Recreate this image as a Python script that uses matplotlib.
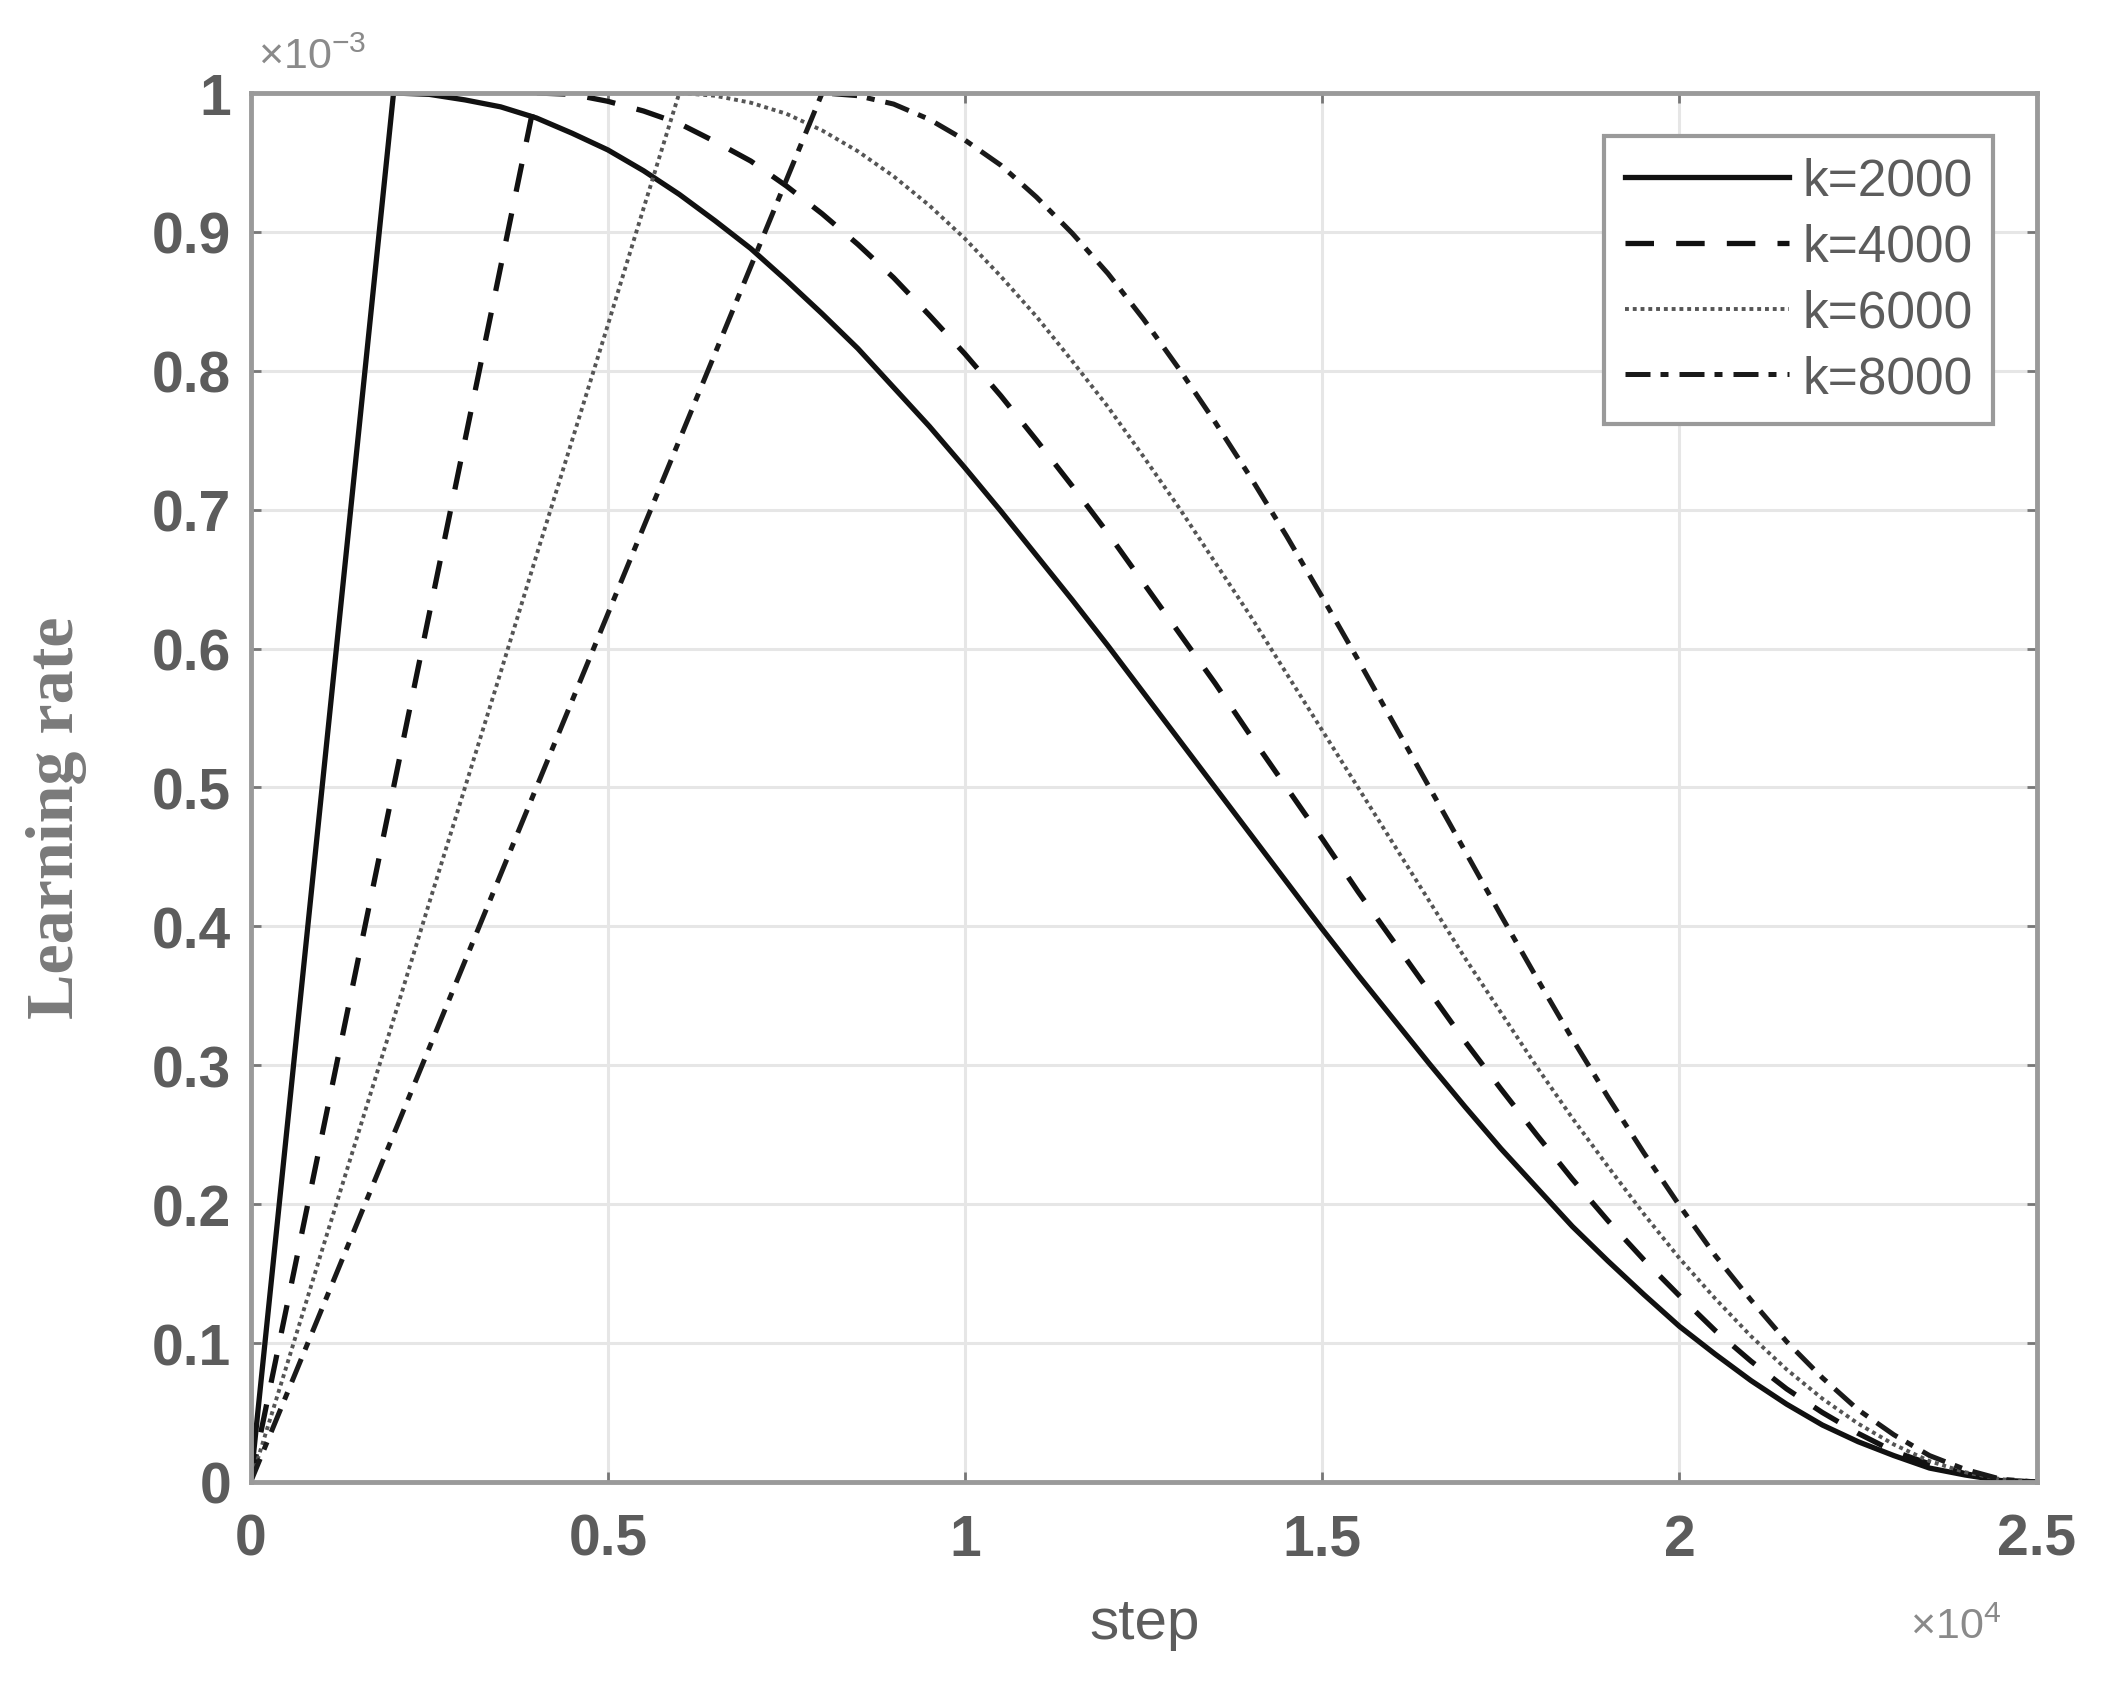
#!/usr/bin/env python3

import matplotlib
matplotlib.use("Agg")
import matplotlib.pyplot as plt
import numpy as np

# step axis (read every 500 steps)
steps = list(range(0, 25001, 500))

# learning rate, in units of 1e-3
lr_k2000 = [0, 0.25, 0.5, 0.75, 1.0, 0.999, 0.995, 0.990, 0.982, 0.971, 0.959, 0.944, 0.927,
            0.908, 0.888, 0.865, 0.841, 0.816, 0.788, 0.760, 0.730, 0.699, 0.667, 0.635, 0.602,
            0.568, 0.534, 0.500, 0.466, 0.432, 0.398, 0.365, 0.333, 0.301, 0.270, 0.240, 0.212,
            0.184, 0.159, 0.135, 0.112, 0.092, 0.073, 0.056, 0.041, 0.029, 0.019, 0.010, 0.005,
            0.001, 0]
lr_k4000 = [0, 0.125, 0.25, 0.375, 0.5, 0.625, 0.75, 0.875, 1.0, 0.999, 0.994, 0.987, 0.978,
            0.965, 0.951, 0.933, 0.913, 0.891, 0.867, 0.840, 0.812, 0.782, 0.750, 0.717, 0.683,
            0.647, 0.611, 0.575, 0.537, 0.500, 0.463, 0.425, 0.389, 0.353, 0.317, 0.283, 0.250,
            0.218, 0.188, 0.160, 0.134, 0.109, 0.087, 0.067, 0.050, 0.035, 0.022, 0.013, 0.006,
            0.001, 0]
lr_k6000 = [0, 0.083, 0.167, 0.25, 0.333, 0.417, 0.5, 0.583, 0.667, 0.75, 0.833, 0.917, 1.0,
            0.998, 0.993, 0.985, 0.973, 0.958, 0.940, 0.919, 0.895, 0.868, 0.839, 0.807, 0.774,
            0.738, 0.701, 0.662, 0.623, 0.582, 0.541, 0.500, 0.459, 0.418, 0.377, 0.338, 0.299,
            0.262, 0.227, 0.193, 0.161, 0.132, 0.105, 0.081, 0.060, 0.042, 0.027, 0.015, 0.007,
            0.002, 0]
lr_k8000 = [0, 0.0625, 0.125, 0.1875, 0.25, 0.3125, 0.375, 0.4375, 0.5, 0.5625, 0.625, 0.6875,
            0.75, 0.8125, 0.875, 0.9375, 1.0, 0.998, 0.992, 0.981, 0.966, 0.948, 0.925, 0.899,
            0.870, 0.837, 0.801, 0.763, 0.723, 0.681, 0.637, 0.592, 0.546, 0.500, 0.454, 0.408,
            0.363, 0.319, 0.277, 0.237, 0.199, 0.163, 0.131, 0.101, 0.075, 0.052, 0.034, 0.019,
            0.009, 0.002, 0]

labels = ["k=2000", "k=4000", "k=6000", "k=8000"]
xticks = [0, 0.5, 1, 1.5, 2, 2.5]
xtick_labels = ["0", "0.5", "1", "1.5", "2", "2.5"]
yticks = [0, 0.1, 0.2, 0.3, 0.4, 0.5, 0.6, 0.7, 0.8, 0.9, 1.0]
ytick_labels = ["0", "0.1", "0.2", "0.3", "0.4", "0.5", "0.6", "0.7", "0.8", "0.9", "1"]

TXT = "#5c5c5c"
AXC = "#9a9a9a"
SANS = ["Liberation Sans", "DejaVu Sans"]

plt.rcParams["mathtext.fontset"] = "custom"
plt.rcParams["mathtext.rm"] = "Liberation Sans"
plt.rcParams["mathtext.it"] = "Liberation Sans"
plt.rcParams["mathtext.bf"] = "Liberation Sans:bold"


def main():
    fig = plt.figure(figsize=(21.01, 16.90), dpi=100)
    ax = fig.add_axes([0.1193, 0.1225, 0.8501, 0.8219])

    x = np.array(steps) / 1e4
    ax.plot(x, lr_k2000, color="#111111", lw=3.8, ls="-", label=labels[0])
    ax.plot(x, lr_k4000, color="#111111", lw=3.8, dashes=(5.4, 4.2), label=labels[1])
    ax.plot(x, lr_k6000, color="#555555", lw=2.8, dashes=(1.0, 1.0), label=labels[2])
    ax.plot(x, lr_k8000, color="#1a1a1a", lw=3.6, dashes=(5.0, 2.0, 1.6, 2.2), label=labels[3])

    ax.set_xlim(0, 2.5)
    ax.set_ylim(0, 1)
    ax.set_xticks(xticks)
    ax.set_xticklabels(xtick_labels)
    ax.set_yticks(yticks)
    ax.set_yticklabels(ytick_labels)

    ax.grid(True, color="#e6e6e6", lw=2.2)
    ax.set_axisbelow(True)
    for sp in ax.spines.values():
        sp.set_color(AXC)
        sp.set_linewidth(3.5)

    ax.tick_params(axis="both", which="both", direction="in", length=7, width=2,
                   color="#777777", top=True, right=True, labelsize=41, labelcolor=TXT)
    ax.tick_params(axis="x", pad=22)
    ax.tick_params(axis="y", pad=14)
    for lab in ax.get_xticklabels() + ax.get_yticklabels():
        lab.set_family(SANS)
        lab.set_fontweight("bold")

    # axis labels and exponent markers
    fig.text(0.545, 0.039, "step", fontsize=42, color=TXT, family=SANS,
             ha="center", va="center")
    fig.text(0.027, 0.516, "Learning rate", fontsize=49, color="#7a7a7a",
             family=["Liberation Serif", "DejaVu Serif"], fontweight="bold",
             rotation=90, ha="center", va="center")
    fig.text(0.123, 0.966, "\u00d710$^{-3}$", fontsize=31, color="#8a8a8a", family=SANS,
             ha="left", va="center")
    fig.text(0.909, 0.037, "\u00d710$^{4}$", fontsize=31, color="#8a8a8a", family=SANS,
             ha="left", va="center")

    leg = ax.legend(loc="upper right", bbox_to_anchor=(0.9756, 0.969), borderaxespad=0,
                    handlelength=3.2, handletextpad=0.25,
                    labelspacing=0.33, borderpad=0.4, fancybox=False, framealpha=1,
                    prop={"family": SANS, "size": 37})
    leg.get_frame().set_edgecolor(AXC)
    leg.get_frame().set_linewidth(3)
    for t in leg.get_texts():
        t.set_color(TXT)

    fig.savefig("out.png", dpi=100, facecolor="white")


if __name__ == "__main__":
    main()
